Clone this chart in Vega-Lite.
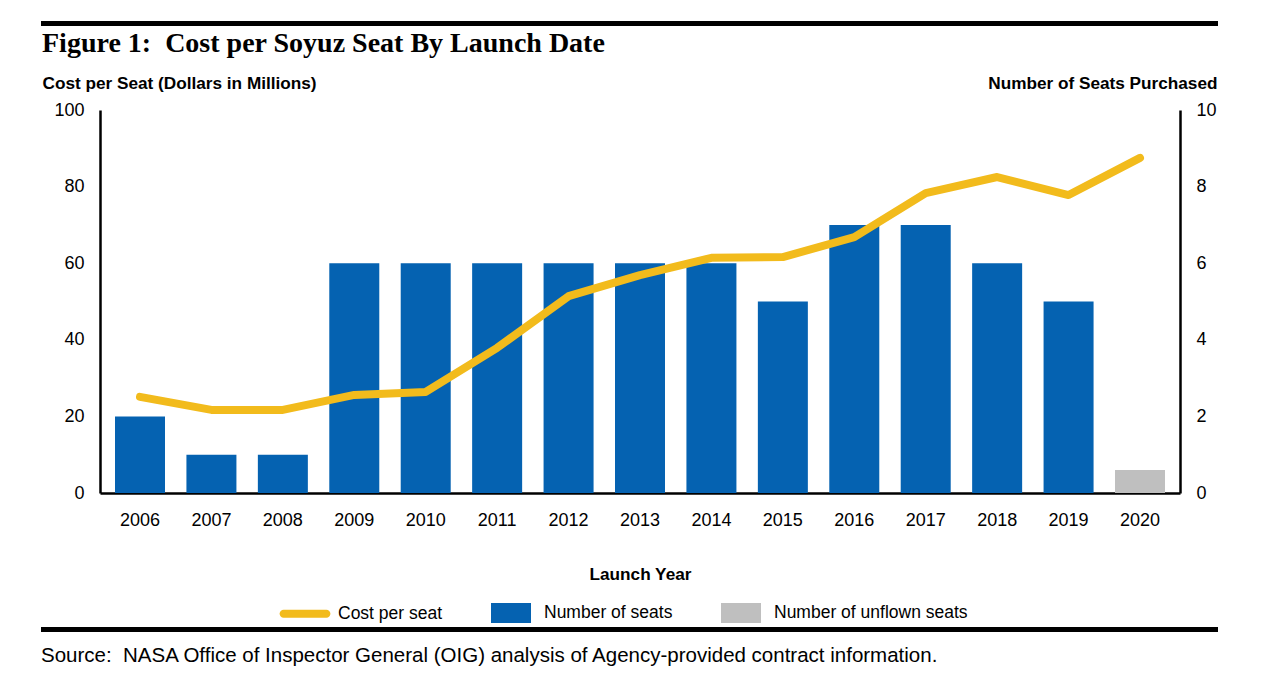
{
  "$schema": "https://vega.github.io/schema/vega-lite/v6.json",
  "padding": {"left": 41, "top": 21, "right": 5, "bottom": 5},
  "background": "white",
  "config": {
    "view": {"stroke": null},
    "font": "Liberation Sans"
  },
  "spacing": 4,
  "resolve": {"scale": {"color": "independent"}},
  "vconcat": [
    {
      "width": 1080,
      "height": 5,
      "data": {"values": [{"a": 0, "b": 1}]},
      "mark": {"type": "rect", "color": "black"},
      "encoding": {
        "x": {"field": "a", "type": "quantitative", "scale": {"domain": [0, 1], "range": [-59, 1118]}, "axis": null},
        "x2": {"field": "b"},
        "y": {"field": "a", "type": "quantitative", "scale": {"domain": [0, 1]}, "axis": null},
        "y2": {"field": "b"}
      }
    },
    {
      "title": {
        "text": "Figure 1:\u00a0 Cost per Soyuz Seat By Launch Date",
        "anchor": "start",
        "font": "Liberation Serif",
        "fontSize": 28,
        "fontWeight": "bold",
        "color": "black",
        "offset": 16
      },
      "width": 1080,
      "height": 383,
      "data": {
        "values": [
          {"year": "2006", "seats": 2, "seat_type": "Number of seats", "cost": 25.1},
          {"year": "2007", "seats": 1, "seat_type": "Number of seats", "cost": 21.7},
          {"year": "2008", "seats": 1, "seat_type": "Number of seats", "cost": 21.7},
          {"year": "2009", "seats": 6, "seat_type": "Number of seats", "cost": 25.6},
          {"year": "2010", "seats": 6, "seat_type": "Number of seats", "cost": 26.4},
          {"year": "2011", "seats": 6, "seat_type": "Number of seats", "cost": 37.9},
          {"year": "2012", "seats": 6, "seat_type": "Number of seats", "cost": 51.4},
          {"year": "2013", "seats": 6, "seat_type": "Number of seats", "cost": 56.9},
          {"year": "2014", "seats": 6, "seat_type": "Number of seats", "cost": 61.4},
          {"year": "2015", "seats": 5, "seat_type": "Number of seats", "cost": 61.6},
          {"year": "2016", "seats": 7, "seat_type": "Number of seats", "cost": 66.8},
          {"year": "2017", "seats": 7, "seat_type": "Number of seats", "cost": 78.3},
          {"year": "2018", "seats": 6, "seat_type": "Number of seats", "cost": 82.5},
          {"year": "2019", "seats": 5, "seat_type": "Number of seats", "cost": 77.8},
          {"year": "2020", "seats": 0.6, "seat_type": "Number of unflown seats", "cost": 87.5}
        ]
      },
      "encoding": {
        "x": {
          "field": "year",
          "type": "ordinal",
          "scale": {"paddingInner": 0.3, "paddingOuter": 0.21},
          "title": "Launch Year",
          "axis": {
            "labelAngle": 0,
            "labelFontSize": 18,
            "labelColor": "black",
            "labelPadding": 18,
            "ticks": false,
            "tickSize": 0,
            "domainColor": "black",
            "domainWidth": 2.5,
            "titleFontSize": 17.2,
            "titleFontWeight": "bold",
            "titleColor": "black",
            "titlePadding": 36
          }
        }
      },
      "layer": [
        {
          "mark": {"type": "bar"},
          "encoding": {
            "y": {
              "field": "seats",
              "type": "quantitative",
              "scale": {"domain": [0, 10]},
              "axis": {
                "orient": "right",
                "values": [0, 2, 4, 6, 8, 10],
                "title": "Number of Seats Purchased",
                "titleAngle": 0,
                "titleAlign": "right",
                "titleBaseline": "alphabetic",
                "titleX": 37,
                "titleY": -22,
                "titleFontSize": 17.2,
                "titleFontWeight": "bold",
                "titleColor": "black",
                "grid": false,
                "ticks": false,
                "labelFontSize": 18,
                "labelColor": "black",
                "labelPadding": 16,
                "domainColor": "black",
                "domainWidth": 2.5
              }
            },
            "color": {
              "field": "seat_type",
              "type": "nominal",
              "scale": {
                "domain": ["Cost per seat", "Number of seats", "Number of unflown seats"],
                "range": ["#F2BB1C", "#0562B1", "#BFBFBF"]
              },
              "legend": {
                "orient": "none",
                "legendX": 185,
                "legendY": 483,
                "direction": "horizontal",
                "title": null,
                "labelFontSize": 17.5,
                "labelColor": "black",
                "labelLimit": 400,
                "symbolSize": 1600,
                "symbolStrokeWidth": 0,
                "symbolOpacity": 1,
                "labelOffset": 13,
                "columnPadding": 48,
                "encode": {
                  "symbols": {
                    "update": {
                      "shape": {"signal": "datum.label === 'Cost per seat' ? 'M-1.07,-0.2H1.07A0.2,0.2 0 0 1 1.07,0.2H-1.07A0.2,0.2 0 0 1 -1.07,-0.2Z' : 'M-1,-0.5H1V0.5H-1Z'"},
                      "fill": {"scale": "color", "field": "value"},
                      "fillOpacity": {"value": 1},
                      "stroke": {"value": "transparent"},
                      "opacity": {"value": 1}
                    }
                  }
                }
              }
            }
          }
        },
        {
          "mark": {"type": "line", "strokeWidth": 8, "strokeCap": "round", "strokeJoin": "round"},
          "encoding": {
            "y": {
              "field": "cost",
              "type": "quantitative",
              "scale": {"domain": [0, 100]},
              "axis": {
                "orient": "left",
                "values": [0, 20, 40, 60, 80, 100],
                "title": "Cost per Seat (Dollars in Millions)",
                "titleAngle": 0,
                "titleAlign": "left",
                "titleBaseline": "alphabetic",
                "titleX": -58,
                "titleY": -22,
                "titleFontSize": 17.2,
                "titleFontWeight": "bold",
                "titleColor": "black",
                "grid": false,
                "ticks": false,
                "labelFontSize": 18,
                "labelColor": "black",
                "labelPadding": 16,
                "domainColor": "black",
                "domainWidth": 2.5
              }
            },
            "color": {"datum": "Cost per seat"}
          }
        }
      ],
      "resolve": {"scale": {"y": "independent"}}
    },
    {
      "width": 1080,
      "height": 5,
      "data": {"values": [{"a": 0, "b": 1}]},
      "mark": {"type": "rect", "color": "black"},
      "encoding": {
        "x": {"field": "a", "type": "quantitative", "scale": {"domain": [0, 1], "range": [-59, 1118]}, "axis": null},
        "x2": {"field": "b"},
        "y": {"field": "a", "type": "quantitative", "scale": {"domain": [0, 1]}, "axis": null},
        "y2": {"field": "b"}
      },
      "title": {
        "text": "Source:\u00a0 NASA Office of Inspector General (OIG) analysis of Agency-provided contract information.",
        "orient": "bottom",
        "anchor": "start",
        "fontSize": 20.5,
        "fontWeight": "normal",
        "color": "black",
        "offset": 14
      }
    }
  ]
}
